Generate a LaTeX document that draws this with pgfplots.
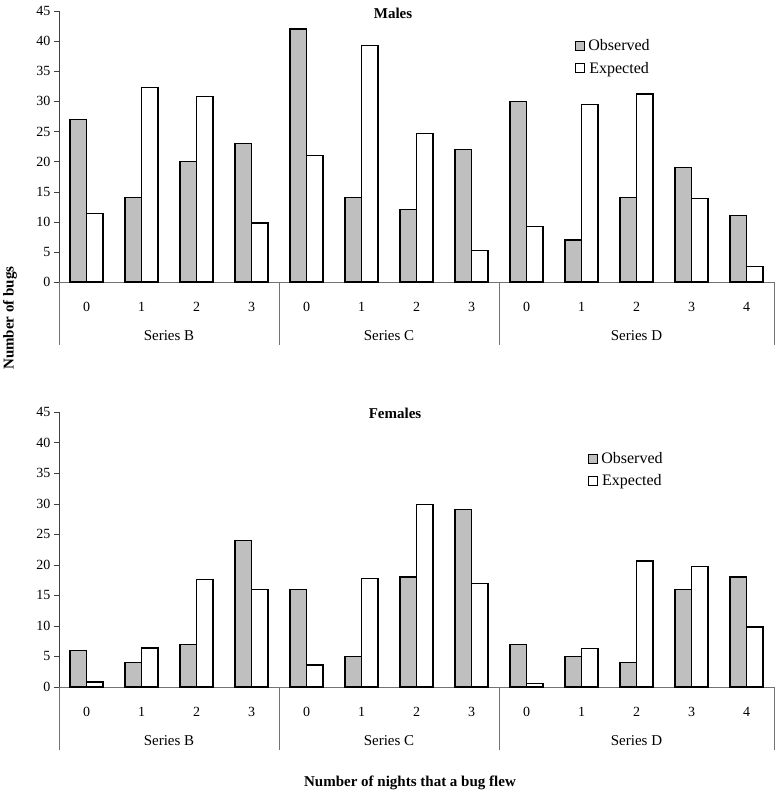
\documentclass[border=0pt]{standalone}
\usepackage{pgfplots}
\pgfplotsset{compat=1.18}
\usepackage{fontspec}
\setmainfont{Liberation Serif}

% one panel: 13 categories in three groups
\pgfplotsset{
  bugpanel/.style={
    scale only axis, width=715pt, clip=false,
    ybar=0pt, bar width=16.5pt,
    xmin=-0.5, xmax=12.5, ymin=0, ymax=45,
    ytick={0,5,...,45},
    xtick={0,...,12}, xticklabels={0,1,2,3,0,1,2,3,0,1,2,3,4},
    axis x line*=bottom, axis y line*=left,
    x axis line style={draw=black!55, -},
    y axis line style={draw=black!75, -},
    x tick style={draw=none},
    y tick style={draw=black!75},
    major tick length=5pt,
    tick align=outside,
    /pgf/number format/assume math mode=true,
    tick label style={font=\fontsize{14}{16}\selectfont},
    x tick label style={yshift=-12pt},
    legend image code/.code={\draw[#1, line width=1pt] (0pt,-4.5pt) rectangle (9pt,4.5pt);},
    legend style={draw=none, fill=none, font=\fontsize{16}{18}\selectfont,
      row sep=8pt, inner sep=0pt, nodes={inner xsep=3pt, inner ysep=1pt}},
  },
  obs/.style={fill=black!25, draw=black, line width=1.4pt},
  expd/.style={fill=white, draw=black, line width=1.4pt},
}

\newcommand{\groupframe}{%
  \draw[black!55] (axis cs:-0.5,0) -- ([yshift=-63pt]axis cs:-0.5,0);
  \draw[black!55] (axis cs:3.5,0) -- ([yshift=-63pt]axis cs:3.5,0);
  \draw[black!55] (axis cs:7.5,0) -- ([yshift=-63pt]axis cs:7.5,0);
  \draw[black!55] (axis cs:12.5,0) -- ([yshift=-63pt]axis cs:12.5,0);
  \node[font=\fontsize{15}{17}\selectfont] at ([yshift=-54pt]axis cs:1.5,0) {Series B};
  \node[font=\fontsize{15}{17}\selectfont] at ([yshift=-54pt]axis cs:5.5,0) {Series C};
  \node[font=\fontsize{15}{17}\selectfont] at ([yshift=-54pt]axis cs:10,0) {Series D};
}

\begin{document}
\begin{tikzpicture}
\useasboundingbox (0,0) rectangle (779pt,-795pt);

% Males
\begin{axis}[bugpanel, height=271pt, at={(59pt,-282pt)}, anchor=south west,
  legend style={at={(0.722,0.900)}, anchor=north west}]
\addplot[obs] coordinates {
(0,27) (1,14) (2,20) (3,23) (4,42) (5,14) (6,12) (7,22) (8,30) (9,7) (10,14) (11,19) (12,11)};
\addplot[expd] coordinates {
(0,11.4) (1,32.3) (2,30.8) (3,9.8) (4,21.0) (5,39.3) (6,24.7) (7,5.2) (8,9.2) (9,29.5) (10,31.2) (11,13.9) (12,2.6)};
\legend{Observed, Expected}
\groupframe
\end{axis}

% Females
\begin{axis}[bugpanel, height=275pt, at={(59pt,-687pt)}, anchor=south west,
  legend style={at={(0.740,0.858)}, anchor=north west}]
\addplot[obs] coordinates {
(0,6) (1,4) (2,7) (3,24) (4,16) (5,5) (6,18) (7,29) (8,7) (9,5) (10,4) (11,16) (12,18)};
\addplot[expd] coordinates {
(0,0.8) (1,6.4) (2,17.6) (3,16.0) (4,3.6) (5,17.8) (6,29.9) (7,16.9) (8,0.55) (9,6.3) (10,20.6) (11,19.7) (12,9.8)};
\legend{Observed, Expected}
\groupframe
\end{axis}

\node[font=\bfseries\fontsize{15}{17}\selectfont] at (393pt,-13pt) {Males};
\node[font=\bfseries\fontsize{15}{17}\selectfont] at (395pt,-413pt) {Females};
\node[font=\bfseries\fontsize{15}{17}\selectfont, rotate=90] at (10pt,-318pt) {Number of bugs};
\node[font=\bfseries\fontsize{15}{17}\selectfont] at (410pt,-783pt) {Number of nights that a bug flew};
\end{tikzpicture}
\end{document}
